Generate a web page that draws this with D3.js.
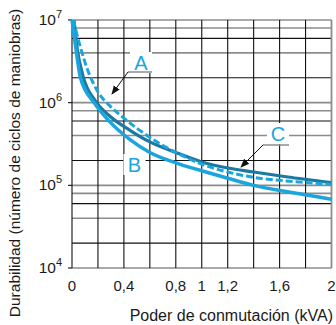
<!DOCTYPE html>
<html>
<head>
<meta charset="utf-8">
<script src="https://d3js.org/d3.v7.min.js"></script>
<style>
  body { margin: 0; background: #fff; }
  text { font-family: "Liberation Sans", Arial, sans-serif; fill: #1a1a1a; }
</style>
</head>
<body>
<div id="chart"></div>
<script>
// data: [kVA, ciclos]
const curveA = [[0.01,1e7],[0.06,5.0e6],[0.12,2.5e6],[0.2,1.35e6],[0.29,9.2e5],[0.4,6.5e5],[0.6,3.8e5],[0.8,2.5e5],[1.0,1.8e5],[1.2,1.45e5],[1.4,1.25e5],[1.65,1.13e5],[2.0,1.03e5]];
const curveB = [[0.0,1e7],[0.03,4.5e6],[0.065,2.0e6],[0.17,1.0e6],[0.29,5.9e5],[0.45,3.55e5],[0.6,2.5e5],[0.8,1.87e5],[1.0,1.5e5],[1.2,1.22e5],[1.4,1.0e5],[1.65,8.4e4],[2.0,6.8e4]];
const curveC = [[0.015,1e7],[0.04,4.5e6],[0.085,2.1e6],[0.18,1.05e6],[0.29,6.9e5],[0.45,4.6e5],[0.6,3.35e5],[0.8,2.5e5],[1.0,1.92e5],[1.2,1.62e5],[1.4,1.45e5],[1.65,1.27e5],[2.0,1.08e5]];
const xTicks = [0, 0.4, 0.8, 1, 1.2, 1.6, 2];
const xGrid = [0, 0.2, 0.4, 0.6, 0.8, 1, 1.2, 1.4, 1.6, 1.8, 2];
const decades = [4, 5, 6, 7];
const subLines = [2, 4, 6, 8];

const W = 336, H = 325;
const x0 = 72, x1 = 331.5, yTop = 20, yBot = 268;

const svg = d3.select("#chart").append("svg")
    .attr("width", W).attr("height", H);

const x = d3.scaleLinear().domain([0, 2]).range([x0, x1]);
const y = d3.scaleLog().domain([1e4, 1e7]).range([yBot, yTop]);

// horizontal grid
var hLines = [];
decades.forEach(function (d) {
    hLines.push({ v: Math.pow(10, d), gray: true });
    if (d < 7) subLines.forEach(function (k) {
        hLines.push({ v: k * Math.pow(10, d), gray: (k == 4 || k == 8) });
    });
});
svg.append("g").selectAll("line").data(hLines).enter().append("line")
    .attr("x1", x0).attr("x2", x1)
    .attr("y1", d => y(d.v)).attr("y2", d => y(d.v))
    .attr("stroke", d => d.gray ? "#8c8c8c" : "#111")
    .attr("stroke-width", d => d.gray ? 1.6 : 1.1);

// vertical grid
svg.append("g").selectAll("line").data(xGrid).enter().append("line")
    .attr("x1", d => x(d)).attr("x2", d => x(d))
    .attr("y1", yTop).attr("y2", yBot)
    .attr("stroke", d => d == 2 ? "#8c8c8c" : "#111")
    .attr("stroke-width", d => d == 2 ? 1.8 : 1.1);

// small ticks left of the axis at each decade
svg.append("g").selectAll("line").data(decades).enter().append("line")
    .attr("x1", x0 - 4).attr("x2", x0)
    .attr("y1", d => y(Math.pow(10, d))).attr("y2", d => y(Math.pow(10, d)))
    .attr("stroke", "#111").attr("stroke-width", 1.1);

// y labels 10^n
var yl = svg.append("g").selectAll("text").data(decades).enter().append("text")
    .attr("x", 62).attr("y", d => y(Math.pow(10, d)) + 5)
    .attr("text-anchor", "end").style("font-size", "15.5px");
yl.append("tspan").text("10");
yl.append("tspan").attr("dy", -7).style("font-size", "11px").text(d => d);

// x labels
svg.append("g").selectAll("text").data(xTicks).enter().append("text")
    .attr("x", d => x(d)).attr("y", 291)
    .attr("text-anchor", "middle").style("font-size", "15px")
    .text(d => String(d).replace(".", ","));

// axis titles
svg.append("text").attr("x", 333).attr("y", 321)
    .attr("text-anchor", "end").style("font-size", "16px")
    .text("Poder de conmutación (kVA)");
svg.append("text")
    .attr("transform", "translate(20," + 163 + ") rotate(-90)")
    .attr("text-anchor", "middle").style("font-size", "15.5px")
    .text("Durabilidad (número de ciclos de maniobras)");

// curves
svg.append("clipPath").attr("id", "clip").append("rect")
    .attr("x", x0 - 4).attr("y", yTop).attr("width", x1 - x0 + 4).attr("height", yBot - yTop);
const line = d3.line().x(d => x(d[0])).y(d => y(d[1])).curve(d3.curveMonotoneX);
const curves = svg.append("g").attr("clip-path", "url(#clip)");
curves.append("path").datum(curveC).attr("d", line)
    .attr("fill", "none").attr("stroke", "#1a7aa2").attr("stroke-width", 3.2);
curves.append("path").datum(curveB).attr("d", line)
    .attr("fill", "none").attr("stroke", "#1ba5de").attr("stroke-width", 3.5);
curves.append("path").datum(curveA).attr("d", line)
    .attr("fill", "none").attr("stroke", "#1ba5de").attr("stroke-width", 3)
    .attr("stroke-dasharray", "7,3");

// labels A, B, C
svg.append("defs").append("marker").attr("id", "arr")
    .attr("viewBox", "0 0 10 10").attr("refX", 9).attr("refY", 5)
    .attr("markerWidth", 9).attr("markerHeight", 9).attr("orient", "auto")
    .attr("markerUnits", "userSpaceOnUse")
    .append("path").attr("d", "M0,1 L10,5 L0,9 Z").attr("fill", "#111");

const labels = [
    { t: "A", cx: 141, by: 70, lead: [128, 152, 72], tip: [112, 94] },
    { t: "B", cx: 134.5, by: 172, lead: null, tip: null },
    { t: "C", cx: 278, by: 141, lead: [263, 289, 145], tip: [241, 167] }
];
labels.forEach(function (l) {
    svg.append("rect").attr("x", l.cx - 11).attr("y", l.by - 18)
        .attr("width", 22).attr("height", 21).attr("fill", "#fff");
    svg.append("text").attr("x", l.cx).attr("y", l.by)
        .attr("text-anchor", "middle").style("font-size", "20px")
        .style("fill", "#1ba5de").text(l.t);
    if (l.lead) {
        svg.append("line").attr("x1", l.lead[0]).attr("x2", l.lead[1])
            .attr("y1", l.lead[2]).attr("y2", l.lead[2])
            .attr("stroke", "#8c8c8c").attr("stroke-width", 1.5);
        svg.append("line").attr("x1", l.lead[0]).attr("y1", l.lead[2])
            .attr("x2", l.tip[0]).attr("y2", l.tip[1])
            .attr("stroke", "#111").attr("stroke-width", 1)
            .attr("marker-end", "url(#arr)");
    }
});
</script>
</body>
</html>
